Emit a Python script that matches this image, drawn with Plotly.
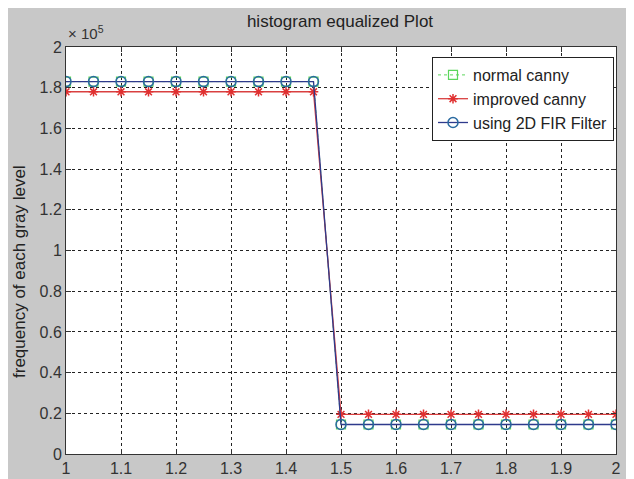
import plotly.graph_objects as go

x_vals = [1.0, 1.05, 1.1, 1.15, 1.2, 1.25, 1.3, 1.35, 1.4, 1.45, 1.5,
          1.55, 1.6, 1.65, 1.7, 1.75, 1.8, 1.85, 1.9, 1.95, 2.0]
normal_canny = [183000]*10 + [14500]*11
improved_canny = [178000]*10 + [19500]*11
fir_filter = [183000]*10 + [14500]*11

x_ticks = [1, 1.1, 1.2, 1.3, 1.4, 1.5, 1.6, 1.7, 1.8, 1.9, 2]
x_ticktext = ["1", "1.1", "1.2", "1.3", "1.4", "1.5", "1.6", "1.7", "1.8", "1.9", "2"]
y_ticks = [0, 20000, 40000, 60000, 80000, 100000, 120000, 140000, 160000, 180000, 200000]
y_ticktext = ["0", "0.2", "0.4", "0.6", "0.8", "1", "1.2", "1.4", "1.6", "1.8", "2"]

# the page body adds an 8px offset; the figure is sized so that the picture matches
OFF = 8
W, H = 634 - OFF, 479 - OFF
ml, mr, mt, mb = 66 - OFF, 18, 47 - OFF, 25
pw, ph = W - ml - mr, H - mt - mb
FONT = "Liberation Sans, Arial"

fig = go.Figure()
fig.add_trace(go.Scatter(
    x=x_vals, y=normal_canny, name="normal canny", mode="lines+markers",
    line=dict(color="#5cd65c", width=1, dash="3px,3px"),
    marker=dict(symbol="square-open", size=9, color="#5cd65c", line=dict(width=1.2))))
fig.add_trace(go.Scatter(
    x=x_vals, y=improved_canny, name="improved canny", mode="lines+markers",
    line=dict(color="#d94040", width=1.3),
    marker=dict(symbol="asterisk-open", size=8, color="#e03030", line=dict(width=1.5, color="#e03030"))))
fig.add_trace(go.Scatter(
    x=x_vals, y=fir_filter, name="using 2D FIR Filter", mode="lines+markers",
    line=dict(color="#2e3a8c", width=1.3),
    marker=dict(symbol="circle-open", size=10, color="#2a6aa0", line=dict(width=1.5, color="#2a6aa0"))))

grid = dict(showgrid=True, gridcolor="#222222", gridwidth=1, griddash="3px,3px",
            showline=True, linecolor="#333333", linewidth=1, mirror="ticks",
            ticks="inside", ticklen=5, tickcolor="#333333", zeroline=False,
            automargin=False,
            tickfont=dict(family=FONT, size=16, color="#333333"))

fig.update_xaxes(range=[1, 2], tickvals=x_ticks, ticktext=x_ticktext, **grid)
fig.update_yaxes(range=[0, 200000], tickvals=y_ticks, ticktext=y_ticktext, **grid)

fig.update_layout(
    width=W, height=H,
    margin=dict(l=ml, r=mr, t=mt, b=mb),
    paper_bgcolor="#c8c8c8", plot_bgcolor="#ffffff",
    title=dict(text="histogram equalized Plot", x=(340 - OFF)/W, xanchor="center",
               y=1 - (21 - OFF)/H, yanchor="middle",
               font=dict(family=FONT, size=17, color="#222222")),
    legend=dict(x=(614 - 66)/pw, y=1 - (57 - 47)/ph, xanchor="right", yanchor="top",
                bgcolor="#ffffff", bordercolor="#222222", borderwidth=1,
                font=dict(family=FONT, size=16, color="#222222"),
                tracegroupgap=0, itemwidth=30),
    showlegend=True,
)

fig.add_annotation(x=0, y=1, xref="paper", yref="paper", xanchor="left", yanchor="bottom",
                   text="× 10<sup>5</sup>", showarrow=False, xshift=0, yshift=3,
                   font=dict(family=FONT, size=15, color="#333333"))

fig.add_annotation(x=(19 - 66)/pw, y=1 - (272 - 47)/ph, xref="paper", yref="paper",
                   xanchor="center", yanchor="middle", textangle=-90,
                   text="frequency of each gray level", showarrow=False,
                   font=dict(family=FONT, size=17, color="#222222"))

fig.write_html("out.html")
